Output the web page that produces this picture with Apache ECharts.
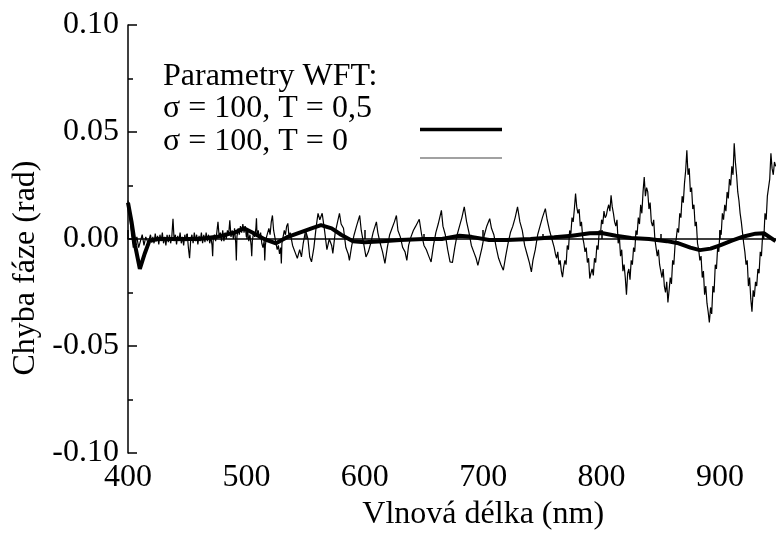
<!DOCTYPE html>
<html>
<head>
<meta charset="utf-8">
<script src="https://cdn.jsdelivr.net/npm/echarts@6/dist/echarts.min.js"></script>
<style>html,body{margin:0;padding:0;background:#fff}#c{width:776px;height:533px}</style>
</head>
<body>
<div id="c"></div>
<script>
const xTitle = 'Vlnová délka (nm)';
const yTitle = 'Chyba fáze (rad)';
const legendTitle = 'Parametry WFT:';
const nameThick = 'σ = 100, T = 0,5';
const nameThin = 'σ = 100, T = 0';

const thickX = [400,403,406,410,414,418,425,440,460,475,490,498,505,515,525,535,545,555,563,572,580,590,600,615,630,650,665,680,690,705,720,740,760,775,790,800,812,825,840,855,865,875,883,892,900,910,920,930,937,947];
const thickY = [0.017,0.008,-0.003,-0.014,-0.007,-0.001,0.000,0.000,0.000,0.001,0.003,0.005,0.003,0.000,-0.002,0.001,0.003,0.005,0.0065,0.005,0.002,-0.001,-0.0015,-0.001,-0.0005,0.000,0.000,0.0015,0.001,-0.0005,-0.0005,0.000,0.0008,0.0015,0.0027,0.0028,0.0015,0.0005,0.000,-0.001,-0.002,-0.004,-0.0052,-0.0045,-0.003,-0.0008,0.0012,0.0025,0.0027,-0.001];

const thinX = [400,401.5,403,404.5,406,407.5,409,410.5,412,413.5,415,417,
419,420,421,422,423,424,425,426,427,428,429,430,431,432,433,434,435,436,437,438,439,440,441,442,443,444,445,446,447,448,449,450,451,452,453,454,455,456,457,458,459,460,461,462,463,464,465,466,467,468,469,470,471,471.5,472,473,474,475,476,477,478,479,480,481,482,483,484,485,486,487,488,489,490,491,491.5,492,493,494,495,496,497,498,499,500,501,502,503,504,504.5,505,506,507,508,508.5,509,510,511,512,513,514,515,515.5,516,517,518,519,520,521,522,523,524,525,526,527,528,529,529.5,530,531,532,533,534,535,536,537,
539,541,543,545,546.5,548,550,552,553.5,555,557,559,560.5,562,564,566,568,570,572,573,575,577,578.6,580,582,584,586,587,589,591,593,595.7,597,599,601,603,605,607,609.8,611,613,615,617,619,621,623,625,626.7,628,630,632,634,635.5,637,639,641,643,646,648,650,652,654,656,658,660,662,664.7,666,668,670,672,674,676,678,680,682,684,686,688,690,692,694,695.5,697,699,701,703,705.5,707,709,711,713,715,717,719,721,723,725,727,729,731,733,735,737,739,740.7,742,744,746,748,750,752.5,754,756,758,
760,761,762,763,764,765,766,767,768,769,770,771,772,773,774,775,776,777,778,779,780,781,782,783,784,785,786,787,788,789,790,791,792,793,794,795,796,797,798,799,800,801,802,803,804,805,806,807,808,809,810,811,812,813,814,815,816,817,818,819,820,821,822,823,824,825,826,827,828,829,830,831,832,833,834,835,836,837,838,839,840,841,842,843,844,845,846,847,848,849,850,851,852,853,854,855,856,857,858,859,860,861,862,863,864,865,866,867,868,869,870,871,872,873,874,875,876,877,878,879,880,881,882,883,884,885,886,887,888,889,890,891,892,893,894,895,896,897,898,899,900,901,902,903,904,905,906,907,908,909,910,911,912,913,914,915,916,917,918,919,920,921,922,923,924,925,926,927,928,929,930,931,932,933,934,935,936,937,938,939,940,941,942,943,944,945,946,947];
const thinY = [0.018,0.010,0.002,-0.004,-0.002,0.001,-0.004,-0.001,0.002,-0.003,0.001,-0.002,
0.002,-0.0015,0.001,-0.002,0.0025,-0.001,0.0015,-0.0025,0.002,-0.001,0.003,-0.002,0.001,-0.003,0.002,-0.0015,0.002,-0.002,0.001,0.0095,-0.001,0.002,-0.0025,0.0015,-0.001,0.003,-0.002,0.001,-0.003,0.002,-0.001,0.0025,-0.004,-0.009,0.000,0.002,-0.002,0.003,-0.001,0.002,-0.0025,0.0015,-0.001,0.003,-0.002,0.002,-0.0015,0.003,-0.001,0.002,-0.002,0.001,-0.003,-0.008,0.000,0.002,-0.001,0.003,0.008,0.001,0.003,-0.001,0.004,-0.001,0.003,0.000,0.004,0.002,0.0087,0.001,0.004,0.000,0.005,-0.002,-0.010,0.001,0.005,0.002,0.006,0.003,0.007,0.003,0.006,0.001,0.004,-0.001,0.002,-0.003,-0.008,-0.001,0.003,0.001,0.005,0.0097,0.002,0.004,0.000,0.003,-0.002,-0.004,-0.001,-0.010,-0.003,0.001,0.003,0.005,0.002,0.008,0.011,0.004,0.001,-0.002,-0.005,-0.003,-0.007,-0.004,-0.0114,-0.002,0.001,0.004,0.002,0.006,0.0073,0.001,0.003,
-0.003,-0.006,-0.009,-0.005,-0.0084,-0.002,0.004,0.000,-0.0084,-0.0107,-0.004,0.006,0.012,0.009,0.012,0.004,-0.005,0.000,-0.003,-0.0067,0.003,0.008,0.012,0.007,0.005,-0.004,-0.007,-0.010,-0.003,0.002,0.006,0.011,0.004,-0.002,-0.0084,-0.006,-0.002,0.003,0.008,0.003,-0.002,-0.006,-0.0114,-0.004,0.002,0.005,0.008,0.011,0.004,0.001,-0.004,-0.006,-0.010,-0.003,0.001,0.004,0.006,0.0092,0.002,-0.003,-0.005,-0.008,-0.0107,-0.003,0.003,0.007,0.0134,0.006,0.002,-0.005,-0.0107,-0.011,-0.004,0.002,0.006,0.010,0.015,0.008,0.003,-0.003,-0.006,-0.009,-0.0123,-0.012,-0.004,0.002,0.006,0.0095,0.005,0.002,-0.004,-0.009,-0.012,-0.0146,-0.008,-0.002,0.003,0.006,0.010,0.015,0.008,0.004,-0.003,-0.007,-0.011,-0.0154,-0.010,-0.005,0.002,0.006,0.010,0.0142,0.009,0.004,0.000,
-0.004,-0.007,-0.009,-0.006,-0.012,-0.010,-0.015,-0.0178,-0.013,-0.010,-0.012,-0.003,-0.005,0.004,0.002,0.010,0.008,0.014,0.0212,0.015,0.012,0.014,0.006,0.008,0.001,-0.002,-0.006,-0.004,-0.011,-0.009,-0.0185,-0.016,-0.014,-0.017,-0.009,-0.011,-0.003,-0.005,0.004,0.002,0.009,0.007,0.013,0.010,0.011,0.014,0.016,0.013,0.0204,0.015,0.012,0.008,0.006,0.009,-0.002,0.001,-0.008,-0.005,-0.015,-0.012,-0.018,-0.026,-0.016,-0.014,-0.019,-0.010,-0.012,-0.004,-0.006,0.004,0.002,0.010,0.007,0.016,0.012,0.022,0.029,0.020,0.024,0.022,0.014,0.017,0.008,0.006,0.009,0.000,-0.004,-0.008,-0.005,-0.012,-0.015,-0.018,-0.014,-0.022,-0.025,-0.020,-0.0296,-0.024,-0.018,-0.021,-0.010,-0.012,-0.003,0.000,0.005,0.003,0.012,0.010,0.020,0.017,0.026,0.032,0.0414,0.030,0.033,0.022,0.024,0.014,0.016,0.006,0.008,-0.002,-0.005,-0.010,-0.008,-0.018,-0.015,-0.026,-0.022,-0.030,-0.034,-0.039,-0.032,-0.035,-0.022,-0.025,-0.012,-0.014,-0.004,-0.006,0.004,0.002,0.012,0.009,0.016,0.013,0.022,0.019,0.028,0.025,0.034,0.030,0.0447,0.036,0.030,0.022,0.018,0.012,0.008,0.003,-0.002,-0.006,-0.012,-0.010,-0.022,-0.018,-0.028,-0.034,-0.024,-0.027,-0.020,-0.022,-0.014,-0.016,-0.006,-0.008,0.002,0.000,0.012,0.009,0.020,0.024,0.028,0.040,0.033,0.030,0.036,0.034];

const xTickLabels = [400,500,600,700,800,900];
const yTickLabels = [-0.10,-0.05,0.00,0.05,0.10];

const FONT = "'Liberation Serif','Times New Roman',serif";
const pair = (xs, ys) => xs.map((x, i) => [x, ys[i]]);

function legendFor(name, top, iconH, padBottom, color) {
  return {
    orient: 'vertical', left: 158, top: top, align: 'right',
    icon: 'rect', itemWidth: 82, itemHeight: iconH, itemGap: 0,
    data: [name],
    itemStyle: {color: color, borderWidth: 0},
    lineStyle: {width: 0},
    formatter: n => '{a|' + n + '}',
    textStyle: {
      fontFamily: FONT, fontSize: 32, color: '#000',
      rich: {a: {fontFamily: FONT, fontSize: 32, color: '#000', width: 252, align: 'left',
                 lineHeight: 32, padding: [0, 0, padBottom, 0]}}
    }
  };
}

const chart = echarts.init(document.getElementById('c'), null, {renderer: 'canvas'});
chart.setOption({
  animation: false,
  backgroundColor: '#fff',
  textStyle: {fontFamily: FONT},
  title: {
    text: legendTitle, left: 158, top: 56,
    textStyle: {fontFamily: FONT, fontSize: 32, fontWeight: 'normal', color: '#000'}
  },
  legend: [
    legendFor(nameThick, 88, 3.5, 41, '#000'),
    legendFor(nameThin, 121, 1, 32, '#444')
  ],
  grid: {left: 128, top: 25, width: 710.4, height: 428, containLabel: false, outerBoundsMode: 'none'},
  xAxis: {
    type: 'value', min: 400, max: 1000, interval: 100,
    name: xTitle, nameLocation: 'middle', nameGap: 45,
    nameTextStyle: {fontFamily: FONT, fontSize: 32, color: '#000'},
    axisLine: {lineStyle: {color: '#000', width: 1.5}},
    axisTick: {inside: true, length: 9, lineStyle: {color: '#000', width: 1.5}},
    minorTick: {show: true, splitNumber: 2, length: 5, lineStyle: {color: '#000', width: 1.5}},
    splitLine: {show: false},
    axisLabel: {fontFamily: FONT, fontSize: 32, color: '#000', margin: 9,
      formatter: v => xTickLabels.includes(v) ? String(v) : ''}
  },
  yAxis: {
    type: 'value', min: -0.1, max: 0.1, interval: 0.05,
    name: yTitle, nameLocation: 'middle', nameGap: 85,
    nameTextStyle: {fontFamily: FONT, fontSize: 32, color: '#000', padding: [0, 58, 0, 0]},
    axisLine: {lineStyle: {color: '#000', width: 1.5}},
    axisTick: {inside: true, length: 9, lineStyle: {color: '#000', width: 1.5}},
    minorTick: {show: true, splitNumber: 2, length: 5, lineStyle: {color: '#000', width: 1.5}},
    splitLine: {show: false},
    axisLabel: {fontFamily: FONT, fontSize: 32, color: '#000', margin: 9,
      formatter: v => {
        const m = yTickLabels.find(t => Math.abs(t - v) < 1e-9);
        return m === undefined ? '' : m.toFixed(2);
      }}
  },
  series: [
    {name: nameThin, type: 'line', data: pair(thinX, thinY), symbol: 'none', z: 2,
      lineStyle: {color: '#000', width: 1.2}, itemStyle: {color: '#444'}},
    {name: nameThick, type: 'line', data: pair(thickX, thickY), symbol: 'none', z: 3,
      lineStyle: {color: '#000', width: 4}, itemStyle: {color: '#000'}}
  ]
});
</script>
</body>
</html>
